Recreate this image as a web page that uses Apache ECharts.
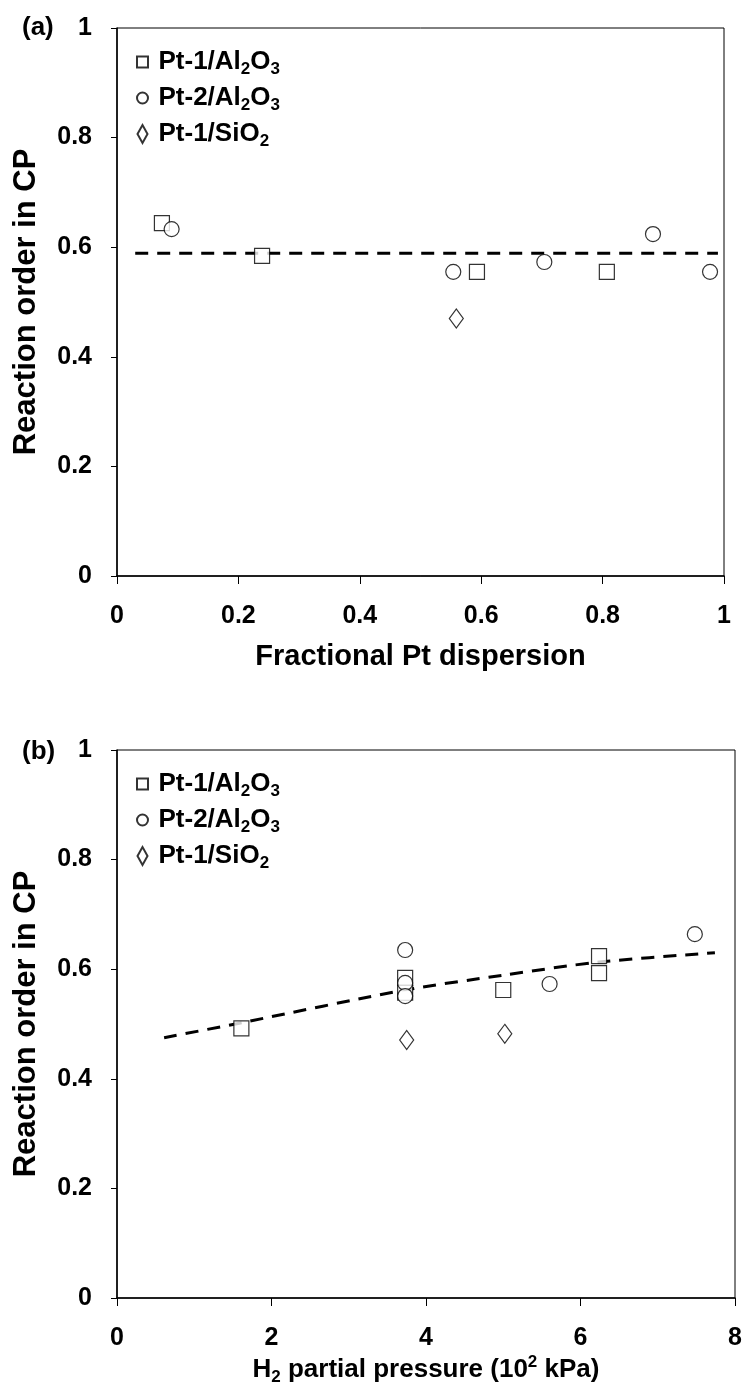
<!DOCTYPE html>
<html>
<head>
<meta charset="utf-8">
<script src="https://cdn.jsdelivr.net/npm/echarts@6/dist/echarts.min.js"></script>
<style>
  html, body { margin: 0; padding: 0; background: #fff; }
  #chart { width: 745px; height: 1395px; }
</style>
</head>
<body>
<div id="chart"></div>
<script>
const FONT = '"Liberation Sans", Arial, sans-serif';

const seriesNames = ['Pt-1/Al2O3', 'Pt-2/Al2O3', 'Pt-1/SiO2'];
const legendText = {
  'Pt-1/Al2O3': '{t|Pt-1/Al}{s|2}{t|O}{s|3}',
  'Pt-2/Al2O3': '{t|Pt-2/Al}{s|2}{t|O}{s|3}',
  'Pt-1/SiO2': '{t|Pt-1/SiO}{s|2}',
};

// (a) reaction order vs fractional Pt dispersion
const dispPt1Al = [[0.074, 0.644], [0.239, 0.584], [0.593, 0.555], [0.807, 0.555]];
const dispPt2Al = [[0.090, 0.633], [0.554, 0.555], [0.704, 0.573], [0.883, 0.624], [0.977, 0.555]];
const dispPt1Si = [[0.559, 0.470]];
const dispFit = [[0.03, 0.589], [0.99, 0.589]];

// (b) reaction order vs H2 partial pressure
const pressPt1Al = [[1.61, 0.492], [3.73, 0.584], [3.73, 0.557], [5.00, 0.562], [6.24, 0.624], [6.24, 0.593]];
const pressPt2Al = [[3.73, 0.635], [3.73, 0.575], [3.73, 0.551], [5.60, 0.573], [7.48, 0.664]];
const pressPt1Si = [[3.75, 0.471], [5.02, 0.482]];
const pressFit = [[0.61, 0.475], [1.60, 0.502], [3.73, 0.562], [5.00, 0.589], [6.24, 0.613], [7.74, 0.630]];

const marker = {color: '#fff', borderColor: '#000', borderWidth: 1.2};
const rich = {
  t: {fontSize: 26, fontWeight: 'bold', fontFamily: FONT, color: '#000', lineHeight: 32},
  s: {fontSize: 17, fontWeight: 'bold', fontFamily: FONT, color: '#000', lineHeight: 17, verticalAlign: 'bottom'},
  p: {fontSize: 17, fontWeight: 'bold', fontFamily: FONT, color: '#000', lineHeight: 17, verticalAlign: 'top'},
};
const tickLabel = {color: '#000', fontSize: 25, fontWeight: 'bold', fontFamily: FONT};
const nameStyle = {color: '#000', fontSize: 29, fontWeight: 'bold', fontFamily: FONT};
const tagStyle = {color: '#000', fontSize: 26, fontWeight: 'bold', fontFamily: FONT};
const axisLine = {show: true, onZero: false, lineStyle: {color: '#000', width: 1.5}};

// legend icons: extra moveTo points pad the bounds so square/circle stay small next to the tall diamond
const legendIcons = [
  'path://M0,-3.5M11,14.5M0,0H11V11H0Z',
  'path://M0,-3.5M11,14.5M0,5.5A5.5,5.5,0,1,1,11,5.5A5.5,5.5,0,1,1,0,5.5Z',
  'path://M0,9L5,0L10,9L5,18Z',
];

function legendFor(top) {
  return {
    orient: 'vertical',
    left: 136,
    top: top,
    padding: 0,
    itemGap: 7,
    itemWidth: 22,
    itemHeight: 18,
    data: seriesNames.map((name, i) => ({name: name, icon: legendIcons[i]})),
    formatter: name => legendText[name],
    textStyle: {rich: rich},
  };
}

function scatterSeries(idx, data1, data2, data3) {
  return [
    {name: seriesNames[0], type: 'scatter', xAxisIndex: idx, yAxisIndex: idx, symbol: 'rect',
      symbolSize: 15, itemStyle: marker, data: data1, z: 3},
    {name: seriesNames[1], type: 'scatter', xAxisIndex: idx, yAxisIndex: idx, symbol: 'circle',
      symbolSize: 15, itemStyle: marker, data: data2, z: 4},
    {name: seriesNames[2], type: 'scatter', xAxisIndex: idx, yAxisIndex: idx, symbol: 'diamond',
      symbolSize: [14, 19], itemStyle: marker, data: data3, z: 5},
  ];
}

const chart = echarts.init(document.getElementById('chart'));
chart.setOption({
  animation: false,
  backgroundColor: '#fff',
  title: [
    {text: '(a)', left: 22, top: 15, padding: 0, textStyle: tagStyle},
    {text: '(b)', left: 22, top: 739, padding: 0, textStyle: tagStyle},
  ],
  legend: [legendFor(49), legendFor(771)],
  grid: [
    {left: 117, top: 28, width: 607, height: 548, show: true, borderColor: '#000', borderWidth: 1},
    {left: 117, top: 750, width: 618, height: 548, show: true, borderColor: '#000', borderWidth: 1},
  ],
  xAxis: [
    {
      type: 'value', gridIndex: 0, min: 0, max: 1, interval: 0.2,
      name: 'Fractional Pt dispersion', nameLocation: 'middle', nameGap: 66, nameTextStyle: nameStyle,
      axisLine: axisLine, axisTick: {length: 8, lineStyle: {color: '#000'}},
      axisLabel: Object.assign({margin: 28}, tickLabel), splitLine: {show: false},
    },
    {
      type: 'value', gridIndex: 1, min: 0, max: 8, interval: 2,
      name: '{t|H}{s|2}{t| partial pressure (10}{p|2}{t| kPa)}', nameLocation: 'middle', nameGap: 56,
      nameTextStyle: {rich: rich},
      axisLine: axisLine, axisTick: {length: 8, lineStyle: {color: '#000'}},
      axisLabel: Object.assign({margin: 28}, tickLabel), splitLine: {show: false},
    },
  ],
  yAxis: [0, 1].map(i => ({
    type: 'value', gridIndex: i, min: 0, max: 1, interval: 0.2,
    name: 'Reaction order in CP', nameLocation: 'middle', nameRotate: 90, nameGap: 75,
    nameTextStyle: Object.assign({}, nameStyle, {fontSize: 31}),
    axisLine: axisLine, axisTick: {length: 6, lineStyle: {color: '#000'}},
    axisLabel: Object.assign({margin: 25}, tickLabel), splitLine: {show: false},
  })),
  series: [
    {name: 'fit-a', type: 'line', xAxisIndex: 0, yAxisIndex: 0, symbol: 'none', data: dispFit,
      lineStyle: {color: '#000', width: 3, type: [13, 9]}, z: 2},
    ...scatterSeries(0, dispPt1Al, dispPt2Al, dispPt1Si),
    {name: 'fit-b', type: 'line', xAxisIndex: 1, yAxisIndex: 1, symbol: 'none', data: pressFit, smooth: 0.3,
      lineStyle: {color: '#000', width: 3, type: [13, 9]}, z: 2},
    ...scatterSeries(1, pressPt1Al, pressPt2Al, pressPt1Si),
  ],
});
</script>
</body>
</html>
